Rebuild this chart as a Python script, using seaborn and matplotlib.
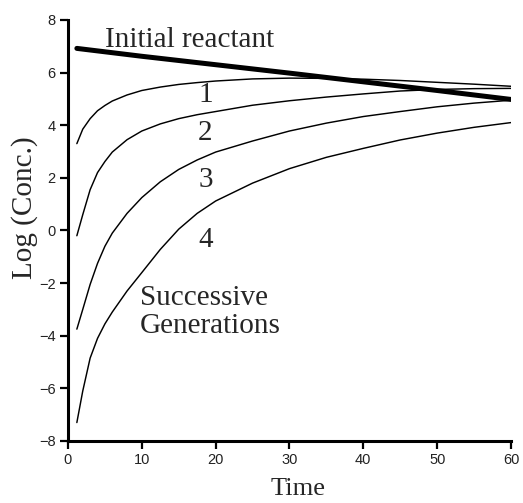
import matplotlib
matplotlib.use("Agg")
import matplotlib.pyplot as plt
import seaborn as sns
import numpy as np
import pandas as pd

# ---- data ----
time = [1.2, 2, 3, 4, 5, 6, 8, 10, 12.5, 15, 17.5, 20, 25, 30, 35, 40, 45, 50, 55, 60]
initial_t = [1.2, 10, 20, 30, 40, 50, 60]
initial_reactant = [6.92, 6.62, 6.30, 5.98, 5.65, 5.32, 4.98]
gen1 = [3.3, 3.85, 4.25, 4.55, 4.75, 4.92, 5.15, 5.32, 5.45, 5.55, 5.62, 5.68, 5.76, 5.79, 5.78, 5.75, 5.70, 5.63, 5.56, 5.48]
gen2 = [-0.2, 0.6, 1.55, 2.2, 2.62, 2.98, 3.45, 3.78, 4.05, 4.25, 4.4, 4.52, 4.76, 4.93, 5.07, 5.19, 5.3, 5.36, 5.39, 5.40]
gen3 = [-3.75, -3.0, -2.05, -1.25, -0.6, -0.1, 0.65, 1.25, 1.85, 2.32, 2.68, 2.98, 3.4, 3.78, 4.08, 4.33, 4.52, 4.7, 4.84, 4.95]
gen4 = [-7.3, -6.1, -4.85, -4.1, -3.55, -3.1, -2.3, -1.6, -0.72, 0.05, 0.65, 1.12, 1.8, 2.35, 2.78, 3.12, 3.44, 3.7, 3.92, 4.1]
gen_labels = ["1", "2", "3", "4"]
gen_label_y = [5.15, 3.7, 1.9, -0.35]
xticks = [0, 10, 20, 30, 40, 50, 60]
yticks = [-8, -6, -4, -2, 0, 2, 4, 6, 8]

sns.set_style("ticks")
plt.rcParams['font.family'] = ['Liberation Sans', 'DejaVu Sans']

fig = plt.figure(figsize=(5.23, 5.03), dpi=100)
ax = fig.add_axes([0.130, 0.1233, 0.847, 0.837])

sns.lineplot(x=initial_t, y=initial_reactant, ax=ax, color="black", linewidth=3.6,
             estimator=None, sort=False)
for g in [gen1, gen2, gen3, gen4]:
    sns.lineplot(x=time, y=g, ax=ax, color="black", linewidth=1.05,
                 estimator=None, sort=False)

ax.set_xlim(0, 60)
ax.set_ylim(-8, 8)
ax.set_xticks(xticks)
ax.set_yticks(yticks)
ax.tick_params(axis="both", direction="out", length=6, width=1.6, labelsize=10.5,
               pad=3, colors="black", labelcolor="#222222")
for s in ["top", "right"]:
    ax.spines[s].set_visible(False)
for s in ["left", "bottom"]:
    ax.spines[s].set_linewidth(2.2)
    ax.spines[s].set_color("black")

serif = ['Liberation Serif', 'DejaVu Serif']
ax.set_xlabel("Time", fontsize=19, family=serif)
ax.set_ylabel("Log (Conc.)", fontsize=21, family=serif)
ax.xaxis.set_label_coords(0.52, -0.088)
ax.yaxis.set_label_coords(-0.068, 0.553)

ax.text(5.0, 6.99, "Initial reactant", fontsize=21, family=serif,
        ha="left", va="baseline")
for lab, yv in zip(gen_labels, gen_label_y):
    ax.text(18.6, yv, lab, fontsize=21, family=serif, ha="center", va="center")
ax.text(9.75, -3.9, "Successive\nGenerations", fontsize=21, family=serif,
        ha="left", va="baseline", linespacing=1.1)

fig.savefig("out.png", dpi=100)
